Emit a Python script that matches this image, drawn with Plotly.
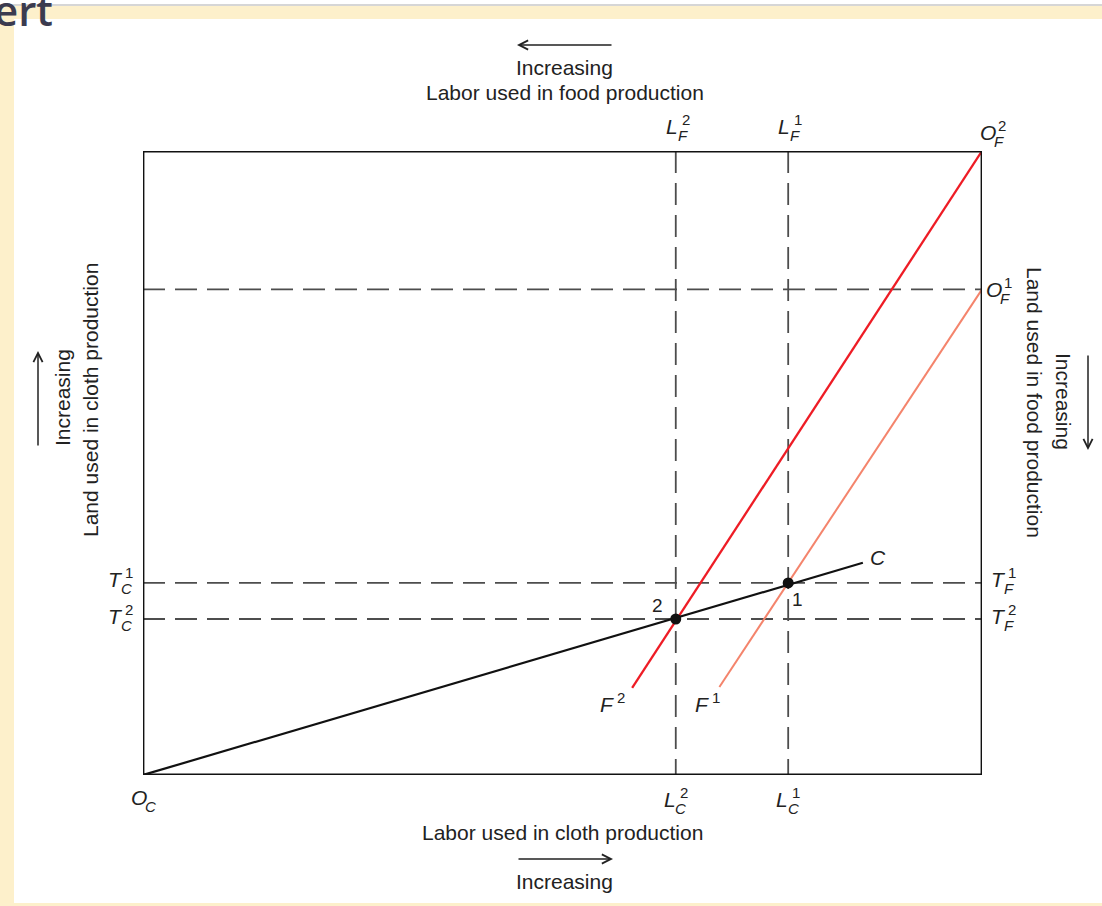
import plotly.graph_objects as go

# ---------------- data (labor on x, land on y) ----------------
total_labor = 100.0
land_before = 57.9          # height of box before land increase (O_F^1)
land_after = 74.4           # height of box after land increase (O_F^2)
labor_cloth = [76.9, 63.5]  # L_C^1, L_C^2
land_cloth = [22.9, 18.6]   # T_C^1, T_C^2
eq_names = ["1", "2"]
c_x = [0.0, 85.8]
c_y = [0.0, 25.3]
f1_x = [68.7, 100.0]
f1_y = [10.5, 57.9]
f2_x = [58.3, 100.0]
f2_y = [10.4, 74.4]

W, H = 1102, 906
FONT = "Liberation Sans, Arial, Helvetica, sans-serif"
TXT = "#222222"
DASH_COL = "#4d4d4d"
CREAM = "#FDF0CB"


def px(x):
    return x / W


def py(y):
    return 1 - y / H


fig = go.Figure()

dash_style = dict(color=DASH_COL, width=1.8, dash="22px,10px")
# vertical dashed lines
for lx in labor_cloth:
    fig.add_trace(go.Scatter(x=[lx, lx], y=[land_after, 0], mode="lines",
                             line=dash_style, hoverinfo="skip", showlegend=False))
# horizontal dashed lines
for ty in land_cloth + [land_before]:
    fig.add_trace(go.Scatter(x=[0, total_labor], y=[ty, ty], mode="lines",
                             line=dash_style, hoverinfo="skip", showlegend=False))

# curves
fig.add_trace(go.Scatter(x=f1_x, y=f1_y, mode="lines",
                         line=dict(color="#F4846C", width=2), showlegend=False))
fig.add_trace(go.Scatter(x=f2_x, y=f2_y, mode="lines",
                         line=dict(color="#EE1C25", width=2.3), showlegend=False))
fig.add_trace(go.Scatter(x=c_x, y=c_y, mode="lines",
                         line=dict(color="#111111", width=2.2), showlegend=False))
fig.add_trace(go.Scatter(x=labor_cloth, y=land_cloth, mode="markers",
                         marker=dict(color="#111111", size=11), showlegend=False))

shapes = [
    # box
    dict(type="rect", xref="x", yref="y", x0=0, x1=total_labor, y0=0, y1=land_after,
         line=dict(color="#111111", width=2.8), layer="above"),
    # cream frame
    dict(type="rect", xref="paper", yref="paper", x0=0, x1=1, y0=py(19), y1=py(6),
         fillcolor=CREAM, line=dict(width=0), layer="below"),
    dict(type="rect", xref="paper", yref="paper", x0=0, x1=px(14), y0=0, y1=py(6),
         fillcolor=CREAM, line=dict(width=0), layer="below"),
    dict(type="rect", xref="paper", yref="paper", x0=0, x1=1, y0=0, y1=py(903),
         fillcolor=CREAM, line=dict(width=0), layer="below"),
    dict(type="line", xref="paper", yref="paper", x0=0, x1=1, y0=py(5), y1=py(5),
         line=dict(color="#c8c8c8", width=1.5), layer="below"),
]

annotations = []


def text(t, x, y, size=21, angle=0, xref="paper", yref="paper", xshift=0, yshift=0,
         family=FONT, color=TXT, xanchor="center", yanchor="middle", weight="normal"):
    annotations.append(dict(text=t, x=x, y=y, xref=xref, yref=yref, showarrow=False,
                            textangle=angle, xshift=xshift, yshift=yshift,
                            xanchor=xanchor, yanchor=yanchor,
                            font=dict(family=family, size=size, color=color,
                                      weight=weight)))


def arrow(hx, hy, ax, ay):
    annotations.append(dict(text="", x=px(hx), y=py(hy), xref="paper", yref="paper",
                            showarrow=True, ax=ax, ay=ay, arrowhead=5, arrowsize=1.2,
                            arrowwidth=1.5, arrowcolor=TXT, standoff=0, startstandoff=0))


def sym(main, sup, sub, x, y, xref, yref, xs, ys):
    text("<i>%s</i>" % main, x, y, size=21, xref=xref, yref=yref, xshift=xs, yshift=ys)
    if sup:
        text(sup, x, y, size=15, xref=xref, yref=yref, xshift=xs + 14, yshift=ys + 7)
    if sub:
        text("<i>%s</i>" % sub, x, y, size=15, xref=xref, yref=yref,
             xshift=xs + 11, yshift=ys - 9)


# axis titles
text("Increasing", px(564), py(68))
text("Labor used in food production", px(565), py(93))
text("Labor used in cloth production", px(563), py(832))
text("Increasing", px(564), py(881))
text("Land used in cloth production", px(90), py(400), angle=-90)
text("Increasing", px(62), py(398), angle=-90)
text("Land used in food production", px(1035), py(402), angle=90)
text("Increasing", px(1063), py(401), angle=90)
arrow(517, 45, 96, 0)
arrow(613, 859, -96, 0)
arrow(38, 351, 0, 96)
arrow(1088, 450, 0, -96)

# symbols
sups = ["1", "2"]
for lx, s in zip(labor_cloth, sups):
    sym("L", s, "F", lx, py(127), "x", "paper", -4, 0)
    sym("L", s, "C", lx, 0, "x", "y", -6, -24)
for ty, s in zip(land_cloth, sups):
    sym("T", s, "F", total_labor, ty, "x", "y", 16, 3)
    sym("T", s, "C", 0, ty, "x", "y", -28, 3)
sym("O", "2", "F", total_labor, land_after, "x", "y", 6, 18)
sym("O", "1", "F", total_labor, land_before, "x", "y", 12, 0)
sym("O", None, "C", 0, 0, "x", "y", -4, -22)
sym("F", "2", None, f2_x[0], f2_y[0], "x", "y", -25, -17)
sym("F", "1", None, f1_x[0], f1_y[0], "x", "y", -17, -18)
text("<i>C</i>", c_x[-1], c_y[-1], xref="x", yref="y", xshift=15, yshift=5)
text(eq_names[1], labor_cloth[1], land_cloth[1], xref="x", yref="y", xshift=-18, yshift=14, size=19)
text(eq_names[0], labor_cloth[0], land_cloth[0], xref="x", yref="y", xshift=9, yshift=-17, size=19)

# partial page heading, cut off at top
text("ert", px(-8), py(40), size=42, family="Open Sans, sans-serif", color="#3b3b4f",
     xanchor="left", yanchor="bottom", weight=600)

fig.update_layout(
    width=W, height=H,
    margin=dict(l=0, r=0, t=0, b=0),
    paper_bgcolor="white", plot_bgcolor="rgba(0,0,0,0)",
    xaxis=dict(domain=[px(143), px(982)], range=[0, total_labor], visible=False,
               fixedrange=True),
    yaxis=dict(domain=[py(775), py(151)], range=[0, land_after], visible=False,
               fixedrange=True),
    shapes=shapes, annotations=annotations, showlegend=False,
)

fig.write_html("out.html", config={"displayModeBar": False},
               post_script="document.body.style.margin='0';"
                           "document.body.style.overflow='hidden';")
